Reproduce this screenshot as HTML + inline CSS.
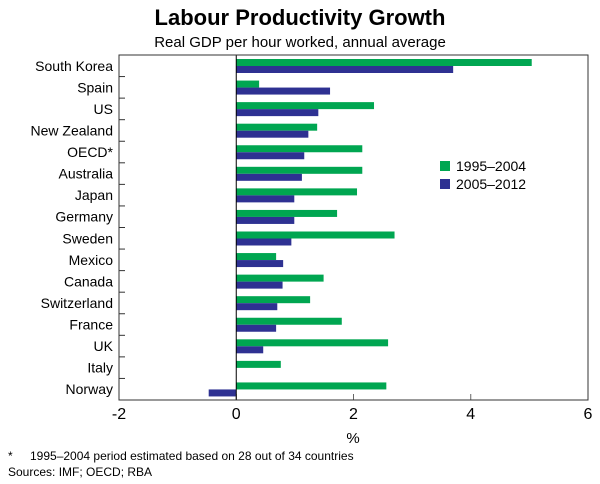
<!DOCTYPE html>
<html><head><meta charset="utf-8"><style>
body{margin:0;background:#fff;}
svg{display:block;font-family:"Liberation Sans",Arial,sans-serif;}
</style></head><body>
<svg id="chart" width="600" height="484" viewBox="0 0 600 484">
<text x="300" y="25" text-anchor="middle" font-size="22" font-weight="bold">Labour Productivity Growth</text>
<text x="300" y="47" text-anchor="middle" font-size="15">Real GDP per hour worked, annual average</text>
<g id="plot"></g>
<rect x="440" y="161" width="10" height="10" fill="#00a651"/>
<text x="456" y="171" font-size="14">1995–2004</text>
<rect x="440" y="179" width="10" height="10" fill="#2e3192"/>
<text x="456" y="189" font-size="14">2005–2012</text>
<text x="353" y="443" text-anchor="middle" font-size="15">%</text>
<text x="8" y="460" font-size="12">*</text>
<text x="30" y="460" font-size="12">1995–2004 period estimated based on 28 out of 34 countries</text>
<text x="8" y="476" font-size="12">Sources: IMF; OECD; RBA</text>
</svg>
<script>
const categories=["South Korea","Spain","US","New Zealand","OECD*","Australia","Japan","Germany","Sweden","Mexico","Canada","Switzerland","France","UK","Italy","Norway"];
const series1995=[5.04,0.39,2.35,1.38,2.15,2.15,2.06,1.72,2.70,0.68,1.49,1.26,1.80,2.59,0.76,2.56];
const series2005=[3.70,1.60,1.40,1.23,1.16,1.12,0.99,0.99,0.94,0.80,0.79,0.70,0.68,0.46,null,-0.47];
const xTicks=[-2,0,2,4,6];
const L=119,R=588,T=55,B=400,xmin=-2,xmax=6;
const x=v=>L+(v-xmin)/(xmax-xmin)*(R-L);
const band=(B-T)/categories.length;
const y=i=>T+i*band;
const g=document.getElementById('plot');
const NS='http://www.w3.org/2000/svg';
function mk(t,a){const e=document.createElementNS(NS,t);for(const k in a)e.setAttribute(k,a[k]);g.appendChild(e);return e;}
categories.forEach((c,i)=>{
  const t=mk('text',{x:113,y:y(i)+band/2+5,'text-anchor':'end','font-size':14});
  t.textContent=c;
  
  
  if(i>0){const tk=mk('line',{x1:L,x2:L+6,y1:y(i),y2:y(i),stroke:'#333'});
  
  }
  const v1=series1995[i];
  if(v1!=null){const r=mk('rect',{x:Math.min(x(0),x(v1)),y:y(i)+4,width:Math.abs(x(v1)-x(0)),height:7,fill:'#00a651'});
  
  }
  const v2=series2005[i];
  if(v2!=null){const r=mk('rect',{x:Math.min(x(0),x(v2)),y:y(i)+11,width:Math.abs(x(v2)-x(0)),height:7,fill:'#2e3192'});
  
  }
});
xTicks.forEach(v=>{
  const tk=mk('line',{x1:x(v),x2:x(v),y1:B,y2:B-6,stroke:'#666'});
  
  
  const t=mk('text',{x:x(v),y:B+19,'text-anchor':'middle','font-size':16});
  t.textContent=v;
  
  
});
const z=mk('line',{x1:x(0),x2:x(0),y1:T,y2:B,stroke:'#000'});


const f=mk('rect',{x:L,y:T,width:R-L,height:B-T,fill:'none',stroke:'#333'});


</script>
</body></html>
